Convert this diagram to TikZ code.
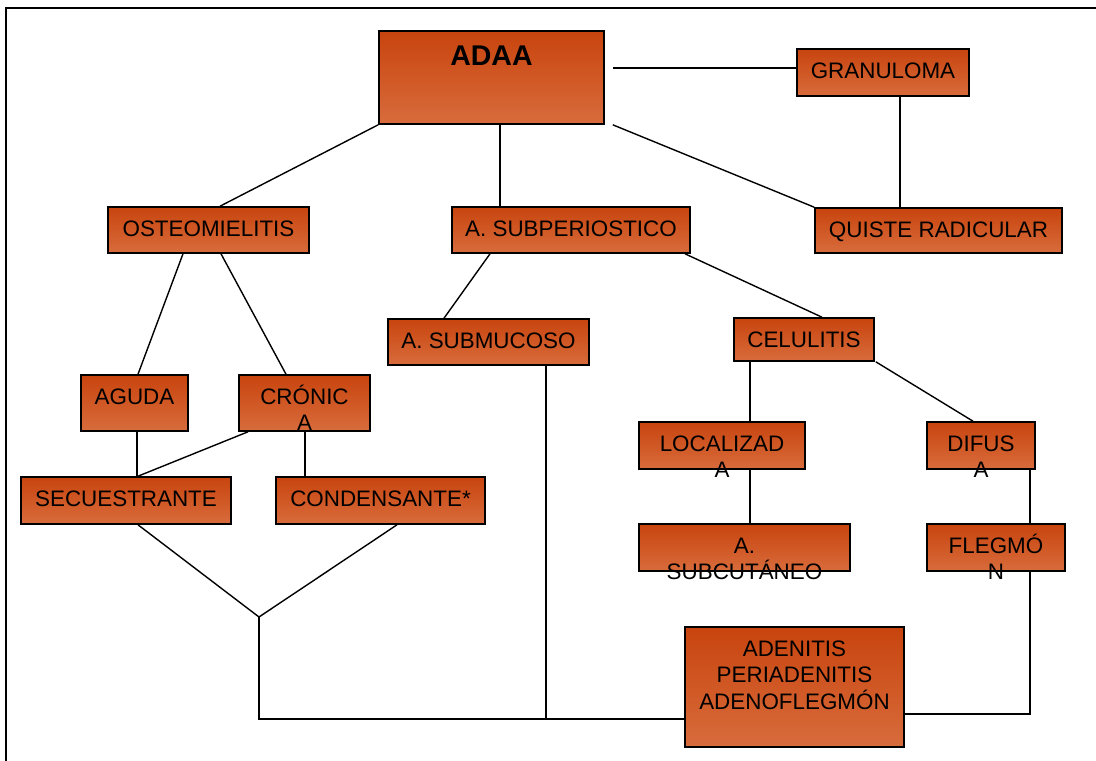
\documentclass[tikz,border=0pt]{standalone}
\usepackage{fontspec}
\setmainfont{Liberation Sans}
\definecolor{boxtop}{HTML}{C8440E}
\definecolor{boxbot}{HTML}{D86C3C}
\tikzset{
  box/.style={draw=black, line width=1.6pt, rectangle, inner sep=0pt,
    top color=boxtop, bottom color=boxbot},
  lbl/.style={inner sep=0pt, align=center, font=\fontsize{22.4}{26.5}\selectfont},
  conn/.style={draw=black, line width=1.4pt},
  frame/.style={draw=black, line width=2pt}
}
\newcommand\bx[6]{%
  \node[box, minimum width={(#4)-(#2)}, minimum height={(#5)-(#3)}] (#1) at ({((#2)+(#4))/2},{((#3)+(#5))/2}) {};
  \node[lbl, anchor=north] (#1-t) at ({((#2)+(#4))/2},{(#3)+6.5}) {\rule{0pt}{22.4pt}#6};
}
\begin{document}
\begin{tikzpicture}[x=1pt, y=-1pt]
\useasboundingbox (0,0) rectangle (1096,761);
% frame
\coordinate (fa) at (6,761);
\coordinate (fb) at (6,7.5);
\coordinate (fc) at (1096,7.5);
\draw[frame] (fa) -- (fb) -- (fc);

% boxes
\node[box, minimum width=225pt, minimum height=93pt] (adaa) at (491.5,77.5) {};
\node[inner sep=0pt, anchor=base, font=\fontsize{28.5}{32}\selectfont\bfseries] (adaa-t) at (491.5,65) {ADAA};
\bx{gran}{797}{49}{969}{96}{GRANULOMA}
\bx{osteo}{108}{207}{309}{253}{OSTEOMIELITIS}
\bx{subp}{452}{207}{690}{253}{A. SUBPERIOSTICO}
\bx{quiste}{815}{208}{1062}{253}{QUISTE RADICULAR}
\bx{submuc}{388}{319}{589}{365}{A. SUBMUCOSO}
\bx{celul}{734}{318}{874}{361}{CELULITIS}
\bx{aguda}{81}{375}{188}{431}{AGUDA}
\bx{cron}{239}{375}{370}{431}{CRÓNIC\\A}
\bx{secu}{21}{477}{231}{524}{SECUESTRANTE}
\bx{cond}{276}{477}{485}{524}{CONDENSANTE*}
\bx{loc}{639}{422}{805}{469}{LOCALIZAD\\A}
\bx{dif}{927}{422}{1035}{469}{DIFUS\\A}
\bx{subc}{639}{524}{850}{571}{A.\\SUBCUTÁNEO}
\bx{fleg}{927}{524}{1065}{571}{FLEGMÓ\\N}
\bx{aden}{685}{627}{904}{747}{ADENITIS\\PERIADENITIS\\ADENOFLEGMÓN}

% junction coordinates
\coordinate (J) at (259,617);
\coordinate (K) at (546,719);

% connectors
\draw[conn] ([xshift=8pt,yshift=9.5pt]adaa.east) -- ([yshift=4.5pt]gran.west);
\draw[conn] (adaa.south west) -- ([xshift=11.5pt]osteo.north);
\draw[conn] ([xshift=8.5pt]adaa.south) -- ([xshift=-71pt]subp.north);
\draw[conn] ([xshift=8pt]adaa.south east) -- (quiste.north west);
\draw[conn] ([xshift=17pt]gran.south) -- ([xshift=-38.5pt]quiste.north);
\draw[conn] ([xshift=-25.5pt]osteo.south) -- ([xshift=3.5pt]aguda.north);
\draw[conn] ([xshift=12.5pt]osteo.south) -- ([xshift=-18.5pt]cron.north);
\draw[conn] ([xshift=-81pt]subp.south) -- ([xshift=-44.5pt]submuc.north);
\draw[conn] ([xshift=114pt]subp.south) -- ([xshift=18pt]celul.north);
\draw[conn] ([xshift=2.5pt]aguda.south) -- ([xshift=11pt]secu.north);
\draw[conn] ([xshift=-56.5pt]cron.south) -- ([xshift=12pt]secu.north);
\draw[conn] ([xshift=0.5pt]cron.south) -- ([xshift=-75.5pt]cond.north);
\draw[conn] ([xshift=12pt]secu.south) -- (J);
\draw[conn] ([xshift=16.5pt]cond.south) -- (J);
\draw[conn] (J) |- ([yshift=-32pt]aden.west);
\draw[conn] ([xshift=57.5pt]submuc.south) -- (K);
\draw[conn] ([xshift=-54pt]celul.south) -- ([xshift=28pt]loc.north);
\draw[conn] ([xshift=1pt]celul.south east) -- ([xshift=-8pt]dif.north);
\draw[conn] ([xshift=28pt]loc.south) -- ([xshift=5.5pt]subc.north);
\draw[conn] ([xshift=49pt]dif.south) -- ([xshift=34pt]fleg.north);
\draw[conn] ([xshift=34pt]fleg.south) |- ([yshift=-27pt]aden.east);
\end{tikzpicture}
\end{document}
